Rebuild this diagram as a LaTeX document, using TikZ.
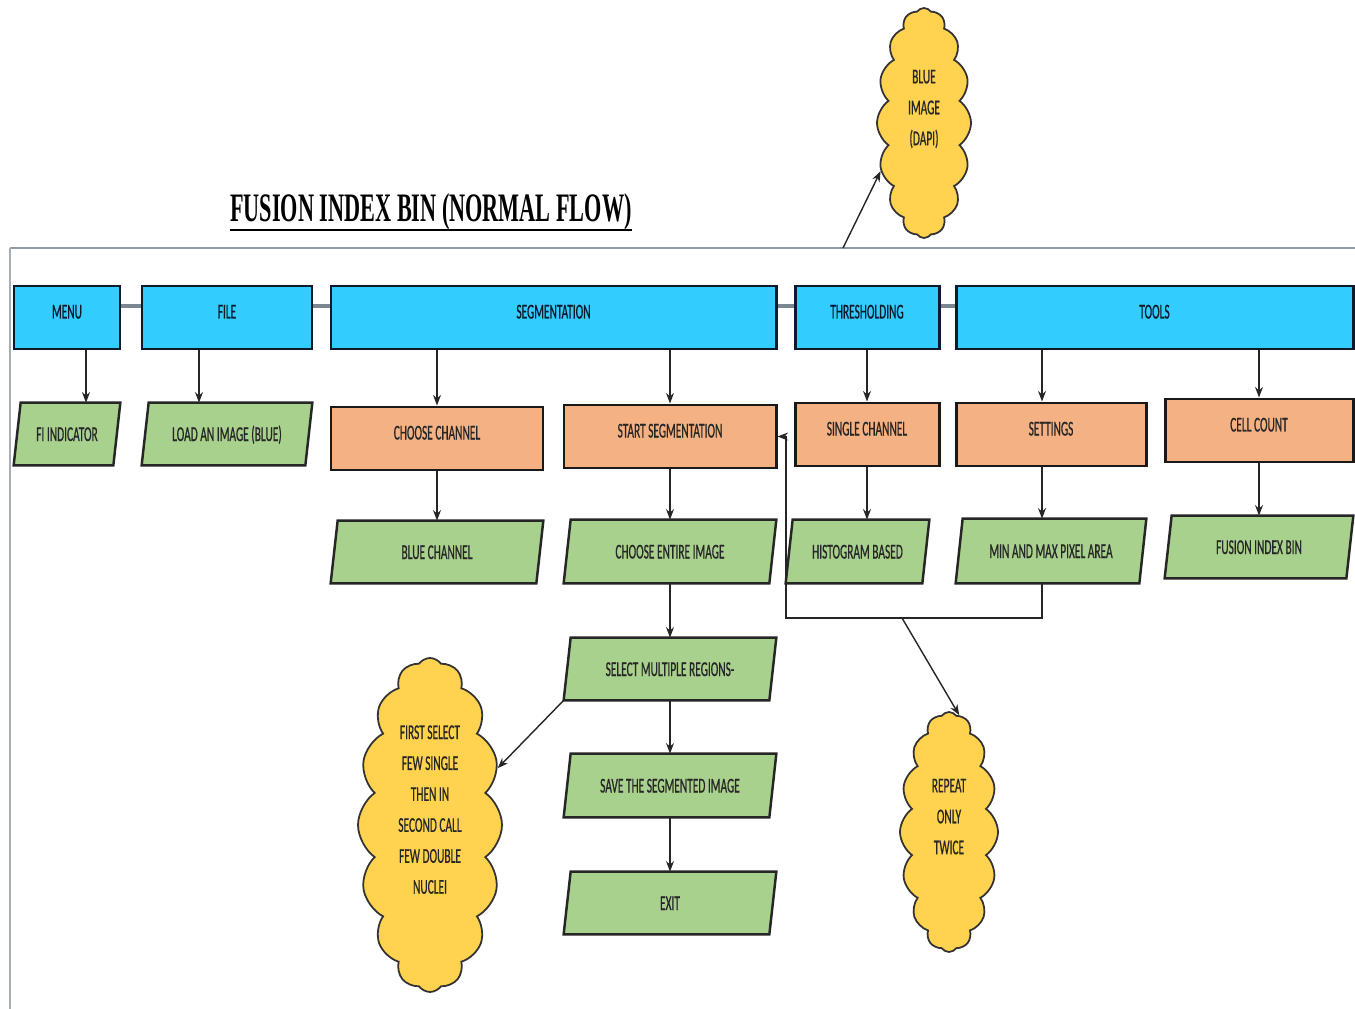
\documentclass[tikz,border=0pt]{standalone}
\usepackage{fontspec}
\newfontfamily\boxfont{Carlito}[FakeStretch=0.54, FakeBold=0.6]
\newfontfamily\titlefont{Liberation Serif Bold}[FakeStretch=0.55]
\usetikzlibrary{shapes.symbols,arrows.meta}

\definecolor{skyfill}{HTML}{33CCFF}
\definecolor{navyline}{HTML}{0E1A2B}
\definecolor{peach}{HTML}{F4B183}
\definecolor{leaf}{HTML}{A9D18E}
\definecolor{sun}{HTML}{FFD24F}
\definecolor{rulegray}{HTML}{8F9AA4}
\definecolor{framegray}{HTML}{A7AFB6}
\definecolor{linkgray}{HTML}{7B8793}

\pgfdeclarelayer{background}
\pgfsetlayers{background,main}

\begin{document}
\begin{tikzpicture}[x=0.2mm,y=-0.2mm,
  sz/.style 2 args={minimum width=#1*0.2mm, minimum height=#2*0.2mm},
  lbl/.style={font=\boxfont\fontsize{12}{17.6}\selectfont, inner sep=0pt, align=center},
  oneline/.style={text height=2.8mm, text depth=0mm},
  menubox/.style={lbl, oneline, text depth=2.4mm, rectangle, fill=skyfill, draw=navyline,
    line width=1.7pt, text=navyline},
  actbox/.style={lbl, oneline, text depth=2.4mm, rectangle, fill=peach, draw=black!90,
    line width=1.7pt, text=black!85},
  % slanted input/output box: the node is the inner rectangle, the
  % parallelogram is laid on the background layer around it
  iobox/.style={lbl, oneline, rectangle, text=black!85,
    append after command={\pgfextra{\begin{pgfonlayer}{background}
      \filldraw[fill=leaf, draw=black!85, line width=1.4pt]
        ([xshift=0.7mm]\tikzlastnode.north west) -- ([xshift=0.7mm]\tikzlastnode.north east)
        -- ([xshift=-0.7mm]\tikzlastnode.south east) -- ([xshift=-0.7mm]\tikzlastnode.south west)
        -- cycle;
      \end{pgfonlayer}}}},
  note/.style={lbl, cloud, cloud puffs=16, cloud puff arc=110, cloud ignores aspect,
    fill=sun, draw=black!80, line width=1pt, text=black!85},
  arr/.style={-{Stealth[length=6pt,width=4.5pt]}, line width=0.8pt, draw=black!85},
  link/.style={draw=linkgray, line width=2.8pt}
]
\begin{pgfonlayer}{background}
  \fill[white] (0,0) rectangle (1355,1009);
\end{pgfonlayer}
\useasboundingbox (0,0) rectangle (1355,1009);

% title
\node[font=\titlefont\fontsize{23}{23}\selectfont, anchor=base, inner sep=0pt] (title)
  at (431,222) {FUSION INDEX BIN (NORMAL FLOW)};
\draw[line width=0.8pt] ([yshift=-1.6mm]title.base west) -- ([yshift=-1.6mm]title.base east);

% frame rules
\coordinate (ruleL) at (10,248);
\coordinate (ruleR) at (1355,248);
\coordinate (ruleB) at (10,1009);
\draw[rulegray, line width=1.1pt] (ruleL) -- (ruleR);
\draw[framegray, line width=0.9pt] (ruleL) -- (ruleB);

% menu bar
\node[menubox, sz={106}{63}] (menu)  at (67,317.5)    {MENU};
\node[menubox, sz={170}{63}] (file)  at (227,317.5)   {FILE};
\node[menubox, sz={445}{63}] (seg)   at (553.5,317.5) {SEGMENTATION};
\node[menubox, sz={144}{63}] (thr)   at (867,317.5)   {THRESHOLDING};
\node[menubox, sz={397}{63}] (tools) at (1154.5,317.5){TOOLS};

\draw[link] ([yshift=2.3mm]menu.east) -- ([yshift=2.3mm]file.west);
\draw[link] ([yshift=2.3mm]file.east) -- ([yshift=2.3mm]seg.west);
\draw[link] ([yshift=2.3mm]seg.east)  -- ([yshift=2.3mm]thr.west);
\draw[link] ([yshift=2.3mm]thr.east)  -- ([yshift=2.3mm]tools.west);

% second row
\node[iobox,  sz={99}{62}]  (fiind)    at (67,434)      {FI INDICATOR};
\node[iobox,  sz={163}{62}] (load)     at (227,434)     {LOAD AN IMAGE (BLUE)};
\node[actbox, sz={212}{63}] (cchan)    at (437,438.5)   {CHOOSE CHANNEL};
\node[actbox, sz={212}{63}] (sseg)     at (670,436.5)   {START SEGMENTATION};
\node[actbox, sz={144}{63}] (schan)    at (867,434.5)   {SINGLE CHANNEL};
\node[actbox, sz={190}{63}] (settings) at (1051,434.5)  {SETTINGS};
\node[actbox, sz={188}{63}] (ccount)   at (1259,430.5)  {CELL COUNT};

% third row
\node[iobox, sz={205}{62}] (bchan)   at (437,552)    {BLUE CHANNEL};
\node[iobox, sz={205}{63}] (centire) at (670,551.5)  {CHOOSE ENTIRE IMAGE};
\node[iobox, sz={136}{63}] (hist)    at (857.5,551.5){HISTOGRAM BASED};
\node[iobox, sz={183}{64}] (minmax)  at (1051,551)   {MIN AND MAX PIXEL AREA};
\node[iobox, sz={181}{62}] (fib)     at (1259,547)   {FUSION INDEX BIN};

% segmentation column
\node[iobox, sz={205}{62}] (selm) at (670,669)   {SELECT MULTIPLE REGIONS-};
\node[iobox, sz={205}{63}] (save) at (670,785.5) {SAVE THE SEGMENTED IMAGE};
\node[iobox, sz={205}{62}] (exit) at (670,903)   {EXIT};

% notes (the trailing empty line lifts the text a little inside the cloud)
\node[note, sz={94}{230}]  (dapi)   at (924,123) {BLUE\\IMAGE\\(DAPI)\\\mbox{}};
\node[note, sz={144}{334}] (nuclei) at (430,825)
  {FIRST SELECT\\FEW SINGLE\\THEN IN\\SECOND CALL\\FEW DOUBLE\\NUCLEI\\\mbox{}};
\node[note, sz={98}{240}]  (twice)  at (949,832) {REPEAT\\ONLY\\TWICE\\\mbox{}};

% vertical flow
\coordinate (menuDrop) at ([xshift=3.8mm]menu.south);
\coordinate (fileDrop) at ([xshift=-5.6mm]file.south);
\coordinate (toolDrop) at ([xshift=-1.8mm]settings.north);
\draw[arr] (menuDrop) -- (menuDrop |- fiind.north);
\draw[arr] (fileDrop) -- (fileDrop |- load.north);
\draw[arr] (seg.south -| cchan.north) -- (cchan.north);
\draw[arr] (seg.south -| sseg.north) -- (sseg.north);
\draw[arr] (thr.south) -- (thr.south |- schan.north);
\draw[arr] (tools.south -| toolDrop) -- (toolDrop);
\draw[arr] (tools.south -| ccount.north) -- (ccount.north);

\draw[arr] (cchan.south) -- (cchan.south |- bchan.north);
\draw[arr] (sseg.south) -- (sseg.south |- centire.north);
\draw[arr] (schan.south) -- (schan.south |- hist.north);
\draw[arr] (settings.south -| toolDrop) -- (toolDrop |- minmax.north);
\draw[arr] (ccount.south) -- (ccount.south |- fib.north);

\draw[arr] (centire.south) -- (centire.south |- selm.north);
\draw[arr] (selm.south) -- (selm.south |- save.north);
\draw[arr] (save.south) -- (save.south |- exit.north);

% feedback loop back to segmentation
\coordinate (loopCorner) at (786,618);
\coordinate (loopMid) at (902,618);
\draw[arr] (minmax.south -| toolDrop) |- (loopCorner) |- (sseg.east);
\draw[arr] (loopMid) -- (twice.85);

% note pointers
\draw[arr] ([xshift=-0.7mm]selm.south west) -- (nuclei.40);
\coordinate (ruleTap) at (843,248);
\draw[arr] (ruleTap) -- (dapi.228);

\end{tikzpicture}
\end{document}
